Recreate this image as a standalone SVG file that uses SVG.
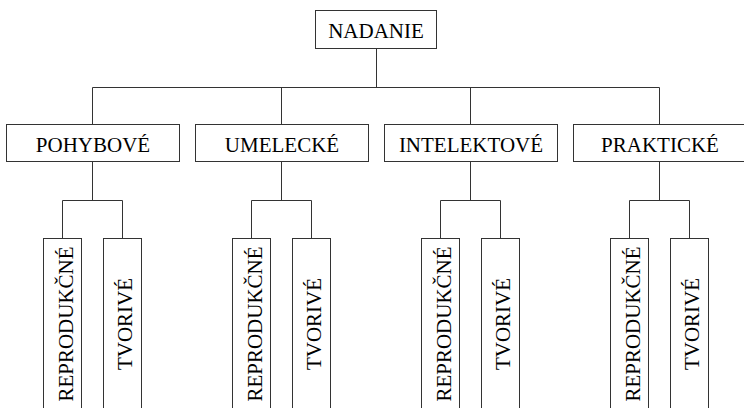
<svg xmlns="http://www.w3.org/2000/svg" width="744" height="408" viewBox="0 0 744 408">
<style>
  rect { fill: #fff; stroke: #333; stroke-width: 1; }
  .c { fill: none; stroke: #333; stroke-width: 1; }
  text { font-family: "Liberation Serif", "Times New Roman", serif; font-size: 21px; fill: #000; text-anchor: middle; }
</style>
<rect x="0" y="0" width="744" height="408" style="stroke:none"/>
<g id="connectors">
  <path class="c" d="M376.5 48.5V87.5M92.5 87.5H659.5"/>
  <path class="c" d="M92.5 87.5V124.5M281.5 87.5V124.5M470.5 87.5V124.5M659.5 87.5V124.5"/>
  <path class="c" d="M92.5 161.5V200.5M62.5 238.5V200.5H122.5V238.5"/>
  <path class="c" d="M281.5 161.5V200.5M251.5 238.5V200.5H311.5V238.5"/>
  <path class="c" d="M470.5 161.5V200.5M440.5 238.5V200.5H500.5V238.5"/>
  <path class="c" d="M659.5 161.5V200.5M629.5 238.5V200.5H689.5V238.5"/>
</g>
<g id="nadanie">
  <rect x="315.5" y="10.5" width="121" height="38"/>
  <text x="376" y="37.5">NADANIE</text>
</g>
<g id="pohybove">
  <rect x="6.5" y="124.5" width="173" height="37"/>
  <text x="93" y="152">POHYBOVÉ</text>
</g>
<g id="umelecke">
  <rect x="195.5" y="124.5" width="173" height="37"/>
  <text x="282" y="152">UMELECKÉ</text>
</g>
<g id="intelektove">
  <rect x="384.5" y="124.5" width="173" height="37"/>
  <text x="471" y="152">INTELEKTOVÉ</text>
</g>
<g id="prakticke">
  <rect x="573.5" y="124.5" width="173" height="37"/>
  <text x="660" y="152">PRAKTICKÉ</text>
</g>
<g id="pohybove-reprodukcne">
  <rect x="43.5" y="238.5" width="38" height="180"/>
  <text transform="translate(72.5,324) rotate(-90)">REPRODUKČNÉ</text>
</g>
<g id="pohybove-tvorive">
  <rect x="103.5" y="238.5" width="38" height="180"/>
  <text transform="translate(132,324) rotate(-90)">TVORIVÉ</text>
</g>
<g id="umelecke-reprodukcne">
  <rect x="232.5" y="238.5" width="38" height="180"/>
  <text transform="translate(261.5,324) rotate(-90)">REPRODUKČNÉ</text>
</g>
<g id="umelecke-tvorive">
  <rect x="292.5" y="238.5" width="38" height="180"/>
  <text transform="translate(321,324) rotate(-90)">TVORIVÉ</text>
</g>
<g id="intelektove-reprodukcne">
  <rect x="421.5" y="238.5" width="38" height="180"/>
  <text transform="translate(450.5,324) rotate(-90)">REPRODUKČNÉ</text>
</g>
<g id="intelektove-tvorive">
  <rect x="481.5" y="238.5" width="38" height="180"/>
  <text transform="translate(510,324) rotate(-90)">TVORIVÉ</text>
</g>
<g id="prakticke-reprodukcne">
  <rect x="610.5" y="238.5" width="38" height="180"/>
  <text transform="translate(639.5,324) rotate(-90)">REPRODUKČNÉ</text>
</g>
<g id="prakticke-tvorive">
  <rect x="670.5" y="238.5" width="38" height="180"/>
  <text transform="translate(699,324) rotate(-90)">TVORIVÉ</text>
</g>
</svg>
